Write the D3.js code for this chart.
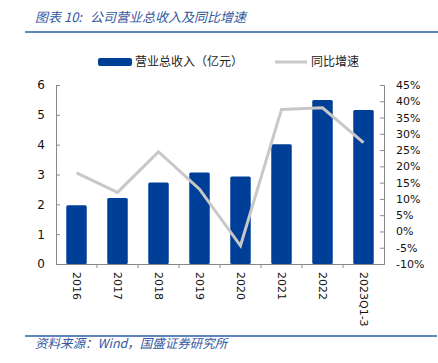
<html>
<head>
    <style>
        body { margin: 0; background: #ffffff; font-family: "DejaVu Sans", Verdana, sans-serif; }
        svg { display: block; }
    </style>
    <script src="https://cdn.jsdelivr.net/npm/d3@7"></script>
</head>
<body>
<svg id="grafico"></svg>
<script>
    // datos
    const anios = ["2016", "2017", "2018", "2019", "2020", "2021", "2022", "2023Q1-3"];
    const ingresos = [1.97, 2.21, 2.73, 3.07, 2.93, 4.01, 5.50, 5.16];
    const crecimiento = [18.0, 12.0, 24.5, 13.0, -4.4, 37.5, 38.0, 27.3];
    const ticksIzq = [0, 1, 2, 3, 4, 5, 6];
    const ticksDer = [-10, -5, 0, 5, 10, 15, 20, 25, 30, 35, 40, 45];

    const ancho = 438, alto = 363;
    const margenes = { top: 85, bottom: 99, left: 56, right: 54 };
    const azul = "#003f98";
    const gris = "#c8c8c8";
    const ejeColor = "#888888";
    const azulTexto = "#34589f";

    const svg = d3.select("#grafico").attr("width", ancho).attr("height", alto);

    const x0 = margenes.left, x1 = ancho - margenes.right;
    const y0 = alto - margenes.bottom, y1 = margenes.top;

    const escalaX = d3.scaleBand().domain(anios).range([x0, x1]).paddingInner(0.5).paddingOuter(0.25);
    const escalaBandas = d3.scaleBand().domain(anios).range([x0, x1]);
    const escalaY = d3.scaleLinear().domain([0, 6]).range([y0, y1]);
    const escalaY2 = d3.scaleLinear().domain([-10, 45]).range([y0, y1]);

    // titulo
    const titulo = svg.append("text")
        .attr("y", 22)
        .attr("font-family", "'Noto Sans CJK SC', sans-serif")
        .attr("font-style", "italic")
        .attr("font-size", 13)
        .attr("fill", azulTexto);
    titulo.append("tspan").attr("x", 35).text("图表 10:");
    titulo.append("tspan").attr("x", 90).text("公司营业总收入及同比增速");
    svg.append("line")
        .attr("x1", 25).attr("x2", ancho).attr("y1", 32).attr("y2", 32)
        .attr("stroke", "#2a5ba8").attr("stroke-width", 1.5);

    // leyenda
    const leyenda = svg.append("g").attr("font-family", "'Noto Sans CJK SC', sans-serif").attr("font-size", 12).attr("fill", "#222");
    leyenda.append("rect").attr("x", 98).attr("y", 58).attr("width", 34).attr("height", 8).attr("rx", 2).attr("fill", azul);
    leyenda.append("text").attr("x", 135).attr("y", 66).text("营业总收入（亿元）");
    leyenda.append("line").attr("x1", 275).attr("x2", 307).attr("y1", 62).attr("y2", 62)
        .attr("stroke", gris).attr("stroke-width", 3);
    leyenda.append("text").attr("x", 311).attr("y", 66).text("同比增速");

    // barras
    svg.append("g").selectAll("rect")
        .data(anios)
        .enter().append("rect")
            .attr("x", d => escalaX(d))
            .attr("width", escalaX.bandwidth())
            .attr("y", (d, i) => escalaY(ingresos[i]))
            .attr("height", (d, i) => y0 - escalaY(ingresos[i]))
            .attr("rx", 1.5)
            .attr("fill", azul);

    // ejes
    const ejeIzq = d3.axisLeft(escalaY).tickValues(ticksIzq).tickSize(-4).tickPadding(11).tickFormat(d3.format("d"));
    const gIzq = svg.append("g").attr("transform", `translate(${x0},0)`).call(ejeIzq);

    const ejeDer = d3.axisRight(escalaY2).tickValues(ticksDer).tickSize(-4).tickPadding(12).tickFormat(d => d + "%");
    const gDer = svg.append("g").attr("transform", `translate(${x1},0)`).call(ejeDer);

    const ejeX = d3.axisBottom(escalaBandas).tickSize(0).tickFormat("");
    const gX = svg.append("g").attr("transform", `translate(0,${y0})`).call(ejeX);
    // marcas entre categorias
    gX.selectAll(".sep")
        .data(anios.slice(1))
        .enter().append("line")
            .attr("x1", d => escalaBandas(d)).attr("x2", d => escalaBandas(d))
            .attr("y1", 0).attr("y2", 4)
            .attr("stroke", ejeColor);

    [gIzq, gDer, gX].forEach(g => {
        g.select(".domain").attr("stroke", ejeColor);
        g.selectAll(".tick line").attr("stroke", ejeColor);
        g.selectAll("text").attr("font-family", "'DejaVu Sans', sans-serif").attr("font-size", 11).attr("fill", "#111");
    });
    gIzq.selectAll("text").attr("font-size", 12);

    // etiquetas del eje x, giradas
    svg.append("g").selectAll("text")
        .data(anios)
        .enter().append("text")
            .attr("transform", d => `translate(${escalaBandas(d) + escalaBandas.bandwidth() / 2 - 4},${y0 + 8}) rotate(90)`)
            .attr("font-family", "'DejaVu Sans', sans-serif")
            .attr("font-size", 11)
            .attr("fill", "#111")
            .text(d => d);

    // linea de crecimiento
    const linea = d3.line()
        .x((d, i) => escalaBandas(anios[i]) + escalaBandas.bandwidth() / 2)
        .y(d => escalaY2(d));
    svg.append("path")
        .datum(crecimiento)
        .attr("d", linea)
        .attr("fill", "none")
        .attr("stroke", gris)
        .attr("stroke-width", 3);

    // fuente
    svg.append("line")
        .attr("x1", 25).attr("x2", ancho - 1).attr("y1", 336).attr("y2", 336)
        .attr("stroke", "#2a5ba8").attr("stroke-width", 1.5);
    svg.append("text")
        .attr("x", 35).attr("y", 348)
        .attr("font-family", "'Noto Sans CJK SC', sans-serif")
        .attr("font-style", "italic")
        .attr("font-size", 12.5)
        .attr("fill", azulTexto)
        .text("资料来源：Wind，国盛证券研究所");
</script>
</body>
</html>
